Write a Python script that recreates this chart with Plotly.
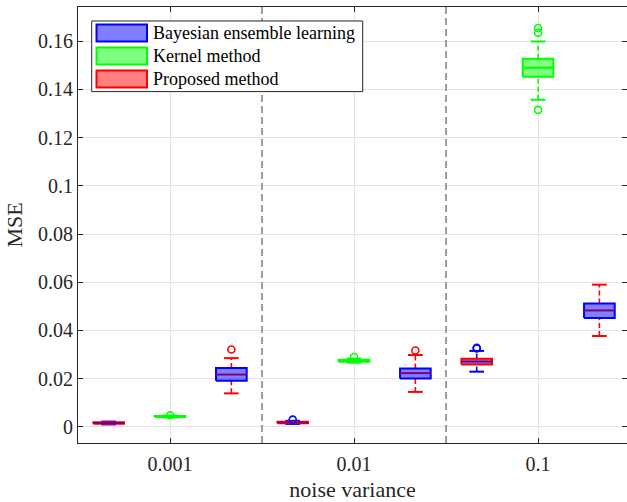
import plotly.graph_objects as go

# ---- data ---------------------------------------------------------------
noise_levels = ["0.001", "0.01", "0.1"]
methods = ["Bayesian ensemble learning", "Kernel method", "Proposed method"]

# box statistics, one entry per box, ordered group by group (left, centre, right)
lower_whisker = [0.0010, 0.0039, 0.0139, 0.0012, 0.0266, 0.0145, 0.0229, 0.1357, 0.0377]
q1_values     = [0.0013, 0.0041, 0.0191, 0.0015, 0.0270, 0.0201, 0.0259, 0.1453, 0.0452]
median_values = [0.0016, 0.0043, 0.0217, 0.0018, 0.0274, 0.0223, 0.0271, 0.1490, 0.0483]
q3_values     = [0.0019, 0.0045, 0.0244, 0.0021, 0.0278, 0.0242, 0.0283, 0.1527, 0.0512]
upper_whisker = [0.0022, 0.0047, 0.0285, 0.0025, 0.0283, 0.0298, 0.0315, 0.1599, 0.0590]
outlier_values = [
    [],
    [0.0048],
    [0.0321],
    [0.0030],
    [0.0290],
    [0.0317],
    [0.0325, 0.0328],
    [0.1315, 0.1635, 0.1655],
    [],
]

y_ticks = [0, 0.02, 0.04, 0.06, 0.08, 0.10, 0.12, 0.14, 0.16]
y_tick_text = ["0", "0.02", "0.04", "0.06", "0.08", "0.1", "0.12", "0.14", "0.16"]

# ---- styling -----------------------------------------------------------
BLUE, GREEN, RED = "#0000ff", "#00ff00", "#ff0000"
BLUE_FILL = "rgba(0,0,255,0.5)"
GREEN_FILL = "rgba(0,255,0,0.5)"
RED_FILL = "rgba(255,0,0,0.5)"
PURPLE = "#7f007f"

whisker_colors = [BLUE, GREEN, RED]
edge_colors = [RED, GREEN, BLUE]
fill_colors = [BLUE_FILL, GREEN_FILL, BLUE_FILL]
median_colors = [PURPLE, GREEN, PURPLE]
legend_edges = [BLUE, GREEN, RED]
legend_fills = [BLUE_FILL, GREEN_FILL, RED_FILL]

FONT = "Liberation Serif"
AXIS_COLOR = "#262626"
GRID_COLOR = "#e3e3e3"
BOX_HALF = 0.25
CAP_HALF = 0.12

n_groups = len(noise_levels)
n_methods = len(methods)

fig = go.Figure()

for i in range(n_groups * n_methods):
    g, m = divmod(i, n_methods)
    p = i + 1
    lo, q1, md, q3, hi = (lower_whisker[i], q1_values[i], median_values[i],
                          q3_values[i], upper_whisker[i])
    wc = whisker_colors[m]

    # dashed whiskers
    fig.add_trace(go.Scatter(
        x=[p, p, None, p, p], y=[q3, hi, None, lo, q1], mode="lines",
        line=dict(color=wc, width=1.6, dash="5px,3px"),
        showlegend=False, hoverinfo="skip"))
    # whisker caps
    fig.add_trace(go.Scatter(
        x=[p - CAP_HALF, p + CAP_HALF, None, p - CAP_HALF, p + CAP_HALF],
        y=[hi, hi, None, lo, lo], mode="lines",
        line=dict(color=wc, width=2),
        showlegend=False, hoverinfo="skip"))
    # box
    fig.add_trace(go.Scatter(
        x=[p - BOX_HALF, p + BOX_HALF, p + BOX_HALF, p - BOX_HALF, p - BOX_HALF],
        y=[q1, q1, q3, q3, q1], mode="lines", fill="toself",
        fillcolor=fill_colors[m], line=dict(color=edge_colors[m], width=2),
        name=methods[m], showlegend=False,
        hovertemplate=f"{methods[m]}<br>noise variance {noise_levels[g]}<extra></extra>"))
    # median
    fig.add_trace(go.Scatter(
        x=[p - BOX_HALF, p + BOX_HALF], y=[md, md], mode="lines",
        line=dict(color=median_colors[m], width=2),
        showlegend=False, hoverinfo="skip"))
    # outliers
    if outlier_values[i]:
        fig.add_trace(go.Scatter(
            x=[p] * len(outlier_values[i]), y=outlier_values[i], mode="markers",
            marker=dict(symbol="circle-open", size=7, color=wc, line=dict(width=1.6)),
            showlegend=False, hoverinfo="skip"))

# group centres and separators between groups
group_centres = [g * n_methods + (n_methods + 1) / 2 for g in range(n_groups)]
separators = [g * n_methods + 0.5 for g in range(1, n_groups)]

shapes = []
for s in separators:
    shapes.append(dict(type="line", xref="x", yref="paper", x0=s, x1=s, y0=0, y1=1,
                       line=dict(color="#7f7f7f", width=1.5, dash="7px,4px"), layer="above"))

# legend box (paper coordinates)
W, H = 627, 502
ML, MR, MT, MB = 78, 0, 7, 58.5
pw, ph = W - ML - MR, H - MT - MB


def px(xp):
    return (xp - ML) / pw


def py(yp):
    return (H - MB - yp) / ph


annotations = []
shapes.append(dict(type="rect", xref="paper", yref="paper",
                   x0=px(91.7), x1=px(362.7), y0=py(91.7), y1=py(21),
                   line=dict(color=AXIS_COLOR, width=1), fillcolor="white", layer="above"))
for k, name in enumerate(methods):
    top = 24.5 + 23 * k
    shapes.append(dict(type="rect", xref="paper", yref="paper",
                       x0=px(96.5), x1=px(147), y0=py(top + 17), y1=py(top),
                       line=dict(color=legend_edges[k], width=2),
                       fillcolor=legend_fills[k], layer="above"))
    annotations.append(dict(xref="paper", yref="paper", x=px(151), y=py(top + 8.5),
                            text=name, showarrow=False, xanchor="left", yanchor="middle",
                            font=dict(family=FONT, size=18, color="black")))

fig.update_layout(
    width=W, height=H,
    margin=dict(l=ML, r=MR, t=MT, b=MB, autoexpand=False),
    paper_bgcolor="white", plot_bgcolor="white",
    showlegend=False,
    font=dict(family=FONT, size=20, color=AXIS_COLOR),
    shapes=shapes, annotations=annotations,
    xaxis=dict(
        range=[0.5, 9.45], tickvals=group_centres, ticktext=noise_levels,
        showgrid=True, gridcolor=GRID_COLOR, gridwidth=1, zeroline=False,
        showline=True, linecolor=AXIS_COLOR, linewidth=1, mirror="allticks",
        ticks="inside", ticklen=5, tickcolor=AXIS_COLOR, ticklabelstandoff=3,
        tickfont=dict(family=FONT, size=20, color=AXIS_COLOR),
        title=dict(text="noise variance", font=dict(family=FONT, size=22, color=AXIS_COLOR),
                   standoff=9),
    ),
    yaxis=dict(
        range=[-0.0067, 0.1742], tickvals=y_ticks, ticktext=y_tick_text,
        showgrid=True, gridcolor=GRID_COLOR, gridwidth=1, zeroline=False,
        showline=True, linecolor=AXIS_COLOR, linewidth=1, mirror="allticks",
        ticks="inside", ticklen=5, tickcolor=AXIS_COLOR,
        tickfont=dict(family=FONT, size=20, color=AXIS_COLOR),
        title=dict(text="MSE", font=dict(family=FONT, size=22, color=AXIS_COLOR),
                   standoff=9),
    ),
)

fig.write_html("out.html")
